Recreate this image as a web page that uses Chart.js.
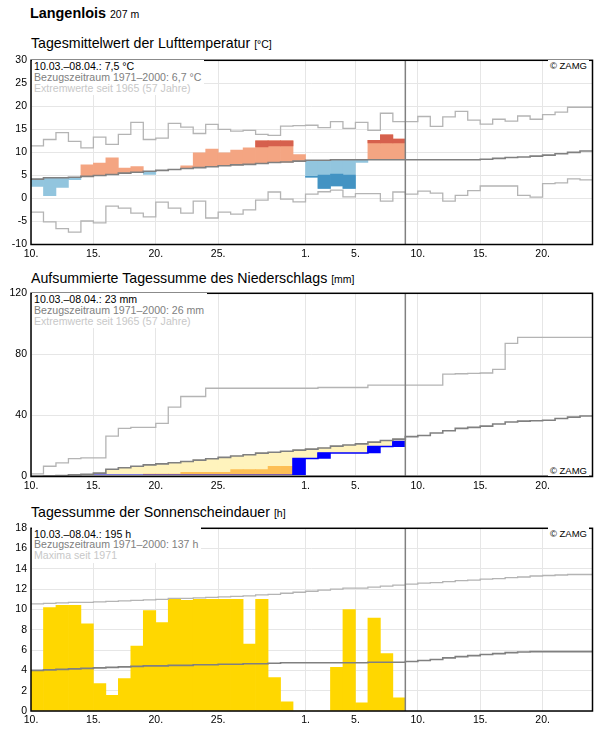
<!DOCTYPE html>
<html lang="de">
<head>
<meta charset="utf-8">
<title>Langenlois</title>
<script src="https://cdn.jsdelivr.net/npm/chart.js@4.4.1/dist/chart.umd.min.js"></script>
<style>
html,body{margin:0;padding:0;background:#fff;}
body{width:596px;height:729px;position:relative;overflow:hidden;font-family:"Liberation Sans",Arial,sans-serif;color:#000;}
.t{position:absolute;white-space:nowrap;line-height:1;}
.station{left:30px;font-size:14.4px;font-weight:bold;}
.station small{font-size:10.5px;font-weight:normal;}
.ptitle{left:31px;font-size:14.2px;}
.ptitle small{font-size:10.5px;}
canvas{position:absolute;left:0;}
.stats{position:absolute;left:32px;background:#fff;padding:1.5px 3px 2px 2px;font-size:10.6px;line-height:10.8px;z-index:2;white-space:nowrap;}
.c1{color:#000}.c2{color:#808080}.c3{color:#c8c8c8}
.zamg{position:absolute;right:7px;background:#fff;padding:0.7px 2px 0 2px;font-size:9.5px;line-height:11px;z-index:2;white-space:nowrap;}
</style>
</head>
<body>
<div class="t station" style="top:6px">Langenlois <small>207 m</small></div>

<div class="t ptitle" style="top:36.3px">Tagesmittelwert der Lufttemperatur <small>[°C]</small></div>
<canvas id="c1" width="596" height="213" style="top:50px"></canvas>
<div class="stats" style="top:59.5px"><div class="c1">10.03.–08.04.: 7,5 °C</div><div class="c2">Bezugszeitraum 1971–2000: 6,7 °C</div><div class="c3">Extremwerte seit 1965 (57 Jahre)</div></div>
<div class="zamg" style="top:59.5px">© ZAMG</div>

<div class="t ptitle" style="top:270.6px">Aufsummierte Tagessumme des Niederschlags <small>[mm]</small></div>
<canvas id="c2" width="596" height="213" style="top:283px"></canvas>
<div class="stats" style="top:292.5px"><div class="c1">10.03.–08.04.: 23 mm</div><div class="c2">Bezugszeitraum 1971–2000: 26 mm</div><div class="c3">Extremwerte seit 1965 (57 Jahre)</div></div>
<div class="zamg" style="top:465px;height:10.5px;padding-top:0">© ZAMG</div>

<div class="t ptitle" style="top:505.2px">Tagessumme der Sonnenscheindauer <small>[h]</small></div>
<canvas id="c3" width="596" height="211" style="top:518px"></canvas>
<div class="stats" style="top:527px"><div class="c1">10.03.–08.04.: 195 h</div><div class="c2">Bezugszeitraum 1971–2000: 137 h</div><div class="c3">Maxima seit 1971</div></div>
<div class="zamg" style="top:527px">© ZAMG</div>

<script>
// ---------- data (days from 10 March to 23 April; observations until 8 April) ----------
const N_DAYS = 45;
const dayTicks = [0, 5, 10, 15, 22, 26, 31, 36, 41];
const dayTickLabels = ['10.', '15.', '20.', '25.', '1.', '5.', '10.', '15.', '20.'];

// Temperature (°C)
const tempObs = [2.6, 0.6, 2.4, 4.1, 7.3, 7.7, 8.8, 6.6, 6.9, 5.2, 6.1, 6.3, 7.1, 9.9, 10.7, 9.9, 10.5, 11.0, 12.5, 12.5,
  12.5, 9.5, 4.6, 2.2, 2.7, 2.2, 7.8, 12.6, 13.8, 12.9];
const tempDarkFrom = [null, null, null, null, null, null, null, null, null, null, null, null, null, null, null, null, null, null,
  11.2, 11.4, 11.4, null, 4.8, 5.1, 5.3, 5.1, null, 12.05, 12.05, 12.05];
const tempMean = [4.2, 4.5, 4.5, 4.6, 4.8, 5.0, 5.2, 5.5, 5.7, 5.9, 6.1, 6.3, 6.5, 6.7, 6.9, 7.1, 7.3, 7.4, 7.6, 7.8, 7.9, 8.1,
  8.3, 8.3, 8.4, 8.4, 8.4, 8.4, 8.4, 8.4, 8.4, 8.4, 8.4, 8.4, 8.4, 8.4, 8.5, 8.7, 8.9, 9.0, 9.2, 9.4, 9.7, 10.0, 10.3];
const tempMax = [11.4, 12.8, 14.3, 12.4, 11.0, 13.3, 11.75, 13.9, 16.5, 12.8, 13.1, 16.3, 15.5, 14.1, 16.1, 15.0, 14.6, 14.8, 13.9, 13.7, 15.7, 15.8,
  15.9, 15.4, 16.7, 15.2, 16.5, 14.8, 18.5, 16.7, 16.7, 17.8, 15.65, 17.7, 18.9, 17.0, 16.15, 17.2, 16.8, 17.9, 17.2, 18.2, 18.75, 19.8, 19.8];
const tempMin = [-2.95, -5.1, -6.55, -7.3, -4.9, -5.3, -1.65, -2.1, -3.2, -4.0, -0.8, -2.1, -3.2, -0.6, -4.25, -2.95, -3.4, -2.5, -0.35, 1.4, -0.15, -0.75,
  0.95, 1.45, 1.8, 0.35, 1.05, 1.05, -0.6, 1.4, 0.95, 1.6, 1.15, -0.6, 0.65, 1.7, 2.7, 2.7, 2.7, 0.65, 0.3, 3.2, 3.4, 4.25, 4.05];

// Precipitation, accumulated (mm)
const precipObs = [0, 0, 0, 0, 0, 0.8, 0.8, 0.8, 0.8, 0.8, 0.8, 0.8, 0.8, 0.8, 0.8, 0.8, 0.8, 0.8, 0.8, 0.8, 0.8,
  11.8, 11.8, 15.4, 15.4, 15.4, 15.4, 19.6, 19.6, 22.9];
const precipLowPct = [null, 0.5, 0.5, 0.5, 0.9, null, null, null, null, 1.6, 1.6, 1.6, 2.8, 2.8, 2.8, 2.8, 4.6, 4.6, 4.6, 6.7, 6.7,
  null, null, null, null, null, null, null, null, null];
const precipMean = [0.2, 0.4, 0.7, 1.1, 1.5, 2.2, 4.7, 5.7, 6.7, 7.6, 8.3, 9.0, 9.8, 10.7, 11.6, 12.5, 13.4, 14.2, 15.3, 15.9, 16.5, 17.3,
  17.9, 18.7, 19.9, 20.6, 21.4, 22.5, 23.6, 24.5, 26.1, 26.9, 28.5, 30.0, 31.5, 32.2, 33.0, 34.4, 35.7, 36.3, 36.5, 36.8, 38.0, 38.9, 39.6];
const precipMax = [1.7, 6.7, 8.9, 11.7, 12.2, 12.2, 26.5, 31.5, 32.2, 32.2, 34.8, 45.4, 52.4, 52.4, 57.8, 57.8, 57.8, 57.8, 57.8, 57.8, 57.8, 57.8,
  57.8, 58.3, 58.3, 58.3, 58.3, 59.8, 59.8, 59.8, 59.8, 59.8, 59.8, 67.0, 67.3, 67.6, 67.8, 70.2, 87.2, 91.1, 91.1, 91.1, 91.1, 91.1, 91.1];
const precipMin = [0.6, 0.6, 0.6, 0.6, 0.6, 0.6, 0.6, 0.6, 0.6, 0.6, 0.6, 0.6, 0.6, 0.6, 0.6, 0.6, 0.6, 0.6, 0.6, 0.6, 0.6, 0.6,
  0.6, 0.6, 0.6, 0.6, 0.6, 0.6, 0.6, 0.6, 0.6, 0.6, 0.6, 0.6, 0.6, 0.6, 0.6, 0.6, 0.6, 0.6, 0.6, 0.6, 0.6, 0.6, 0.6];

// Sunshine duration (h)
const sunObs = [4.0, 10.2, 10.4, 10.4, 8.6, 2.7, 1.55, 3.2, 6.4, 9.9, 8.7, 11.0, 10.9, 11.0, 11.0, 11.0, 11.0, 6.6, 11.0, 3.3, 0.9,
  0, 0, 0, 4.3, 10.0, 0.8, 9.15, 5.65, 1.3];
const sunMean = [4.0, 4.05, 4.1, 4.15, 4.2, 4.25, 4.3, 4.35, 4.4, 4.45, 4.45, 4.5, 4.5, 4.55, 4.55, 4.6, 4.6, 4.65, 4.65, 4.7, 4.75, 4.75,
  4.75, 4.75, 4.75, 4.75, 4.75, 4.8, 4.8, 4.8, 4.88, 4.98, 5.07, 5.23, 5.36, 5.46, 5.56, 5.65, 5.75, 5.82, 5.85, 5.85, 5.85, 5.85, 5.85];
const sunMax = [10.55, 10.6, 10.65, 10.7, 10.7, 10.75, 10.8, 10.85, 10.9, 10.95, 11.0, 11.1, 11.1, 11.15, 11.2, 11.25, 11.3, 11.35, 11.45, 11.5, 11.6, 11.7,
  11.8, 11.9, 12.0, 12.1, 12.1, 12.2, 12.3, 12.4, 12.5, 12.6, 12.65, 12.75, 12.85, 12.9, 13.0, 13.05, 13.15, 13.2, 13.3, 13.35, 13.4, 13.45, 13.45];

// ---------- helpers ----------
const FONT = "'Liberation Sans', Arial, sans-serif";
Chart.defaults.font.family = FONT;
const C_EXT = '#b4b4b4', C_MEAN = '#808080';
const TODAY = tempObs.length;

function stepLine(vals) {
  const pts = vals.map((v, i) => ({x: i, y: v}));
  pts.push({x: vals.length, y: vals[vals.length - 1]});
  return pts;
}
function lineDs(vals, color, width, order) {
  return {type: 'line', data: stepLine(vals), borderColor: color, borderWidth: width, pointRadius: 0,
    pointHoverRadius: 0, stepped: 'before', fill: false, tension: 0, order: order};
}
function barDs(data, colors, order) {
  return {type: 'bar', data: data, backgroundColor: colors, borderWidth: 0, grouped: false,
    barPercentage: 1, categoryPercentage: 1, order: order};
}

const framePlugin = {
  id: 'frame',
  afterDatasetsDraw(chart) {
    const {ctx, chartArea: a, scales: {x}} = chart;
    const px = x.getPixelForValue(TODAY);
    ctx.save();
    ctx.strokeStyle = C_MEAN; ctx.lineWidth = 1.5;
    ctx.beginPath(); ctx.moveTo(px, a.top); ctx.lineTo(px, a.bottom); ctx.stroke();
    ctx.restore();
  },
  afterDraw(chart) {
    const {ctx, chartArea: a} = chart;
    ctx.save();
    ctx.strokeStyle = '#000'; ctx.lineWidth = 1.5;
    ctx.strokeRect(a.left, a.top, a.right - a.left, a.bottom - a.top);
    ctx.restore();
  }
};

function makeChart(id, p) {
  const tickFont = {family: FONT, size: 10.5};
  return new Chart(document.getElementById(id), {
    type: 'bar',
    data: {datasets: p.datasets},
    options: {
      responsive: false, animation: false, events: [],
      layout: {padding: {top: p.padTop, right: 3.5, left: 0, bottom: 0}},
      plugins: {legend: {display: false}, tooltip: {enabled: false}},
      scales: {
        x: {
          type: 'linear', min: 0, max: N_DAYS, offset: false,
          grid: {offset: false, color: '#e6e6e6', lineWidth: 1, drawTicks: false},
          border: {display: false},
          afterBuildTicks: (a) => { a.ticks = dayTicks.map(v => ({value: v})); },
          afterFit: (a) => { a.height = p.xH; },
          ticks: {autoSkip: false, maxRotation: 0, padding: 3, color: '#000', font: tickFont,
            callback: (v, i) => dayTickLabels[i]}
        },
        y: {
          type: 'linear', min: p.yMin, max: p.yMax,
          grid: {color: '#e6e6e6', lineWidth: 1, drawTicks: false},
          border: {display: false},
          afterFit: (a) => { a.width = 31; },
          ticks: {stepSize: p.yStep, padding: 4, color: '#000', font: tickFont}
        }
      }
    },
    plugins: [framePlugin]
  });
}

// ---------- temperature ----------
const tLight = [], tLightCol = [], tDark = [], tDarkCol = [];
tempObs.forEach((v, i) => {
  tLight.push({x: i + 0.5, y: [tempMean[i], v]});
  tLightCol.push(v >= tempMean[i] ? '#f4a582' : '#92c5de');
  if (tempDarkFrom[i] !== null) {
    tDark.push({x: i + 0.5, y: [tempDarkFrom[i], v]});
    tDarkCol.push(v >= tempMean[i] ? '#d6604d' : '#4393c3');
  }
});
makeChart('c1', {
  padTop: 8.5, xH: 18.5, yMin: -10, yMax: 30, yStep: 5,
  datasets: [
    lineDs(tempMean, C_MEAN, 1.6, 1),
    lineDs(tempMax, C_EXT, 1.3, 2),
    lineDs(tempMin, C_EXT, 1.3, 3),
    barDs(tDark, tDarkCol, 4),
    barDs(tLight, tLightCol, 5)
  ]
});

// ---------- precipitation ----------
const pDef = [], pLow = [], pRain = [];
precipObs.forEach((v, i) => {
  pDef.push({x: i + 0.5, y: [v, precipMean[i]]});
  if (precipLowPct[i] !== null && precipLowPct[i] > v) pLow.push({x: i + 0.5, y: [v, precipLowPct[i]]});
  const prev = i === 0 ? 0 : precipObs[i - 1];
  if (v > prev) pRain.push({x: i + 0.5, y: [prev, v]});
});
makeChart('c2', {
  padTop: 8.5, xH: 19.5, yMin: 0, yMax: 120, yStep: 40,
  datasets: [
    lineDs(precipMean, C_MEAN, 1.6, 1),
    lineDs(precipMax, C_EXT, 1.3, 2),
    lineDs(precipMin, C_EXT, 1.3, 3),
    lineDs(precipObs, '#0000ff', 1.5, 4),
    barDs(pRain, '#0000ff', 5),
    barDs(pLow, '#fdbf55', 6),
    barDs(pDef, '#fff3bd', 7)
  ]
});

// ---------- sunshine ----------
const sBars = sunObs.map((v, i) => ({x: i + 0.5, y: v}));
makeChart('c3', {
  padTop: 8, xH: 18, yMin: 0, yMax: 18, yStep: 2,
  datasets: [
    lineDs(sunMean, C_MEAN, 1.6, 1),
    lineDs(sunMax, C_EXT, 1.3, 2),
    barDs(sBars, '#ffd700', 3)
  ]
});
</script>
</body>
</html>
